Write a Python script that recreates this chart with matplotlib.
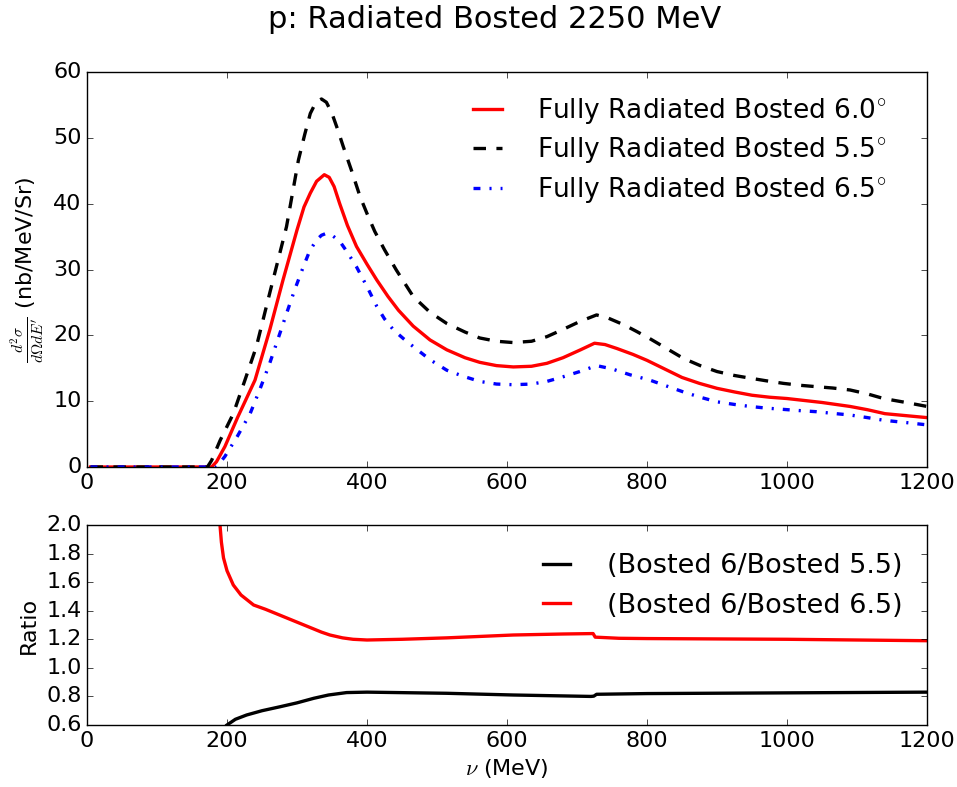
import numpy as np
import matplotlib
matplotlib.use("Agg")
from matplotlib import pyplot as plt

plt.style.use("classic")

# Fully radiated Bosted cross sections (nb/MeV/Sr)
nu_60 = [5, 100, 178, 185, 197, 215, 240, 261, 280, 300, 310, 319, 328, 339, 346, 353, 361, 372, 385, 400,
         414, 430, 445, 466, 490, 514, 540, 561, 585, 609, 635, 657, 680, 705, 725, 740, 757, 780, 800, 825,
         850, 875, 900, 925, 950, 975, 1000, 1025, 1050, 1070, 1090, 1115, 1140, 1170, 1200]
xs_60 = [0, 0, 0, 0.8, 3.1, 7.5, 13.2, 20.8, 28.4, 36.0, 39.5, 41.6, 43.4, 44.4, 44.0, 42.6, 40.0, 36.7,
         33.5, 30.8, 28.4, 25.9, 23.8, 21.4, 19.3, 17.8, 16.6, 15.9, 15.4, 15.2, 15.3, 15.75, 16.6, 17.8,
         18.8, 18.6, 18.0, 17.1, 16.2, 14.9, 13.6, 12.7, 11.95, 11.4, 10.9, 10.6, 10.4, 10.1, 9.8, 9.5, 9.2,
         8.7, 8.1, 7.8, 7.5]

nu_55 = [5, 100, 172, 178, 190, 209, 225, 242, 261, 285, 302, 311, 319, 327, 335, 342, 350, 358, 366, 378,
         390, 400, 411, 425, 442, 466, 490, 514, 540, 561, 585, 609, 635, 657, 680, 704, 728, 745, 767, 785,
         804, 828, 852, 876, 900, 925, 947, 970, 995, 1020, 1042, 1065, 1090, 1115, 1138, 1170, 1200]
xs_55 = [0, 0, 0, 1.0, 4.0, 8.1, 13.0, 18.3, 26.4, 36.5, 46.6, 50.5, 53.7, 55.4, 55.9, 55.4, 53.7, 51.3,
         48.7, 45.0, 41.1, 38.5, 35.8, 33.0, 29.9, 25.9, 23.5, 21.8, 20.5, 19.6, 19.1, 18.9, 19.1, 19.8,
         20.9, 22.1, 23.1, 22.6, 21.6, 20.6, 19.5, 18.0, 16.5, 15.4, 14.5, 13.9, 13.5, 13.1, 12.7, 12.4,
         12.2, 12.0, 11.7, 11.1, 10.4, 9.8, 9.2]

nu_65 = [5, 100, 185, 197, 215, 233, 247, 261, 273, 285, 297, 309, 318, 328, 335, 342, 350, 361, 372, 385,
         400, 414, 425, 438, 452, 466, 490, 514, 537, 561, 585, 609, 635, 657, 680, 704, 728, 750, 776, 804,
         828, 852, 876, 900, 925, 947, 970, 995, 1020, 1042, 1065, 1090, 1115, 1138, 1170, 1200]
xs_65 = [0, 0, 0, 1.6, 4.7, 8.1, 11.8, 15.75, 19.5, 23.3, 27.0, 30.4, 32.8, 34.5, 35.2, 35.5, 35.2, 34.3,
         32.6, 30.4, 27.4, 24.4, 22.5, 20.8, 19.5, 18.3, 16.3, 14.7, 13.8, 13.0, 12.6, 12.5, 12.6, 13.0,
         13.7, 14.5, 15.4, 14.9, 14.0, 13.2, 12.3, 11.4, 10.6, 9.9, 9.5, 9.2, 8.95, 8.75, 8.55, 8.4, 8.15,
         7.9, 7.5, 7.1, 6.75, 6.4]

# ratios
nu_r55 = [200, 212, 228, 250, 276, 300, 324, 345, 371, 400, 514, 609, 720, 724, 728, 800, 1000, 1200]
ratio_55 = [0.6, 0.64, 0.67, 0.70, 0.728, 0.755, 0.787, 0.81, 0.827, 0.83, 0.822, 0.81, 0.80, 0.802, 0.815,
            0.82, 0.825, 0.83]

nu_r65 = [188, 190, 192, 195, 200, 209, 220, 238, 255, 270, 295, 320, 335, 347, 365, 380, 400, 450, 514,
          609, 680, 723, 726, 760, 800, 1000, 1200]
ratio_65 = [2.1, 2.0, 1.88, 1.77, 1.68, 1.58, 1.51, 1.44, 1.41, 1.38, 1.33, 1.28, 1.25, 1.23, 1.21, 1.20,
            1.195, 1.20, 1.21, 1.23, 1.237, 1.24, 1.215, 1.207, 1.205, 1.2, 1.19]

fig = plt.figure(figsize=(9.57, 7.87), dpi=100, facecolor="white")
ax1 = fig.add_axes([87 / 957, 1 - 467 / 787, 840 / 957, 395 / 787])
ax2 = fig.add_axes([87 / 957, 1 - 725 / 787, 840 / 957, 200 / 787])

lw = 2.4
ax1.plot(nu_60, xs_60, "r-", lw=lw, label=r"Fully Radiated Bosted 6.0$^{\circ}$")
ax1.plot(nu_55, xs_55, "k--", lw=lw, dashes=(9, 7.5), label=r"Fully Radiated Bosted 5.5$^{\circ}$")
ax1.plot(nu_65, xs_65, "b-.", lw=lw, dashes=(5, 6.5, 1.5, 6.5), label=r"Fully Radiated Bosted 6.5$^{\circ}$")
ax1.set_xlim(0, 1200)
ax1.set_ylim(0, 60)
ax1.set_ylabel(r"$\frac{d^2\sigma}{d\Omega dE'}$ (nb/MeV/Sr)", fontsize=16)
ax1.legend(loc="upper right", bbox_to_anchor=(0.981, 1.0), frameon=False, fontsize=19,
           handlelength=1.7, handletextpad=1.05, labelspacing=0.36)

fig.text(495 / 957, 1 - 20 / 787, "p: Radiated Bosted 2250 MeV", fontsize=22, ha="center", va="center")

ax2.plot(nu_r55, ratio_55, "k-", lw=lw, label="(Bosted 6/Bosted 5.5)")
ax2.plot(nu_r65, ratio_65, "r-", lw=lw, label="(Bosted 6/Bosted 6.5)")
ax2.set_xlim(0, 1200)
ax2.set_ylim(0.6, 2.0)
ax2.set_yticks(np.arange(0.6, 2.01, 0.2))
ax2.set_ylabel("Ratio", fontsize=16)
ax2.set_xlabel(r"$\nu$ (MeV)", fontsize=16)
ax2.legend(loc="upper right", bbox_to_anchor=(1.0, 0.98), frameon=False, fontsize=19.5,
           handlelength=1.6, handletextpad=1.05)

for ax in (ax1, ax2):
    ax.tick_params(labelsize=16)

fig.savefig("out.png", dpi=100, facecolor="white")
